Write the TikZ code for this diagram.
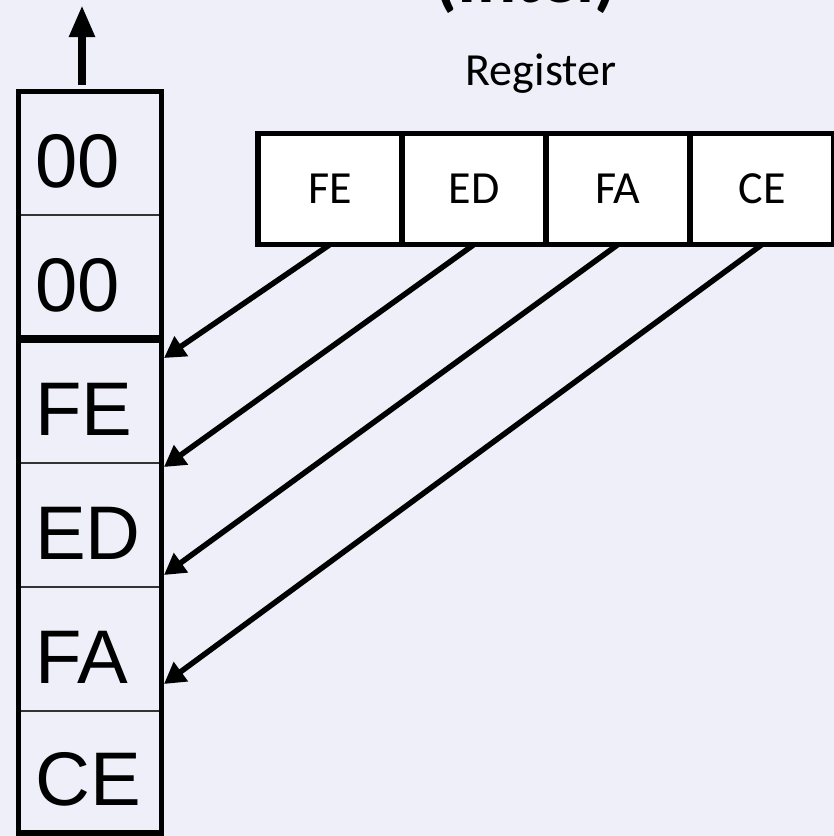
\documentclass[tikz,border=0pt]{standalone}
\usepackage{fontspec}
\setmainfont{Liberation Sans}
\newfontfamily\calibri{Carlito}
\usetikzlibrary{arrows.meta}

\definecolor{slidebg}{RGB}{239,239,250}

\tikzset{
	regcell/.style={draw, rectangle, line width=5.5pt, fill=white, outer sep=0pt,
		minimum width=144pt, minimum height=111pt, font=\calibri\fontsize{46}{50}\selectfont},
	memtext/.style={anchor=base west, inner sep=0pt, font=\fontsize{76}{80}\selectfont},
	copyarrow/.style={-{Triangle[length=21pt,width=23pt]}, line width=5.5pt},
}

\begin{document}
\begin{tikzpicture}[x=1pt, y=-1pt]
				\useasboundingbox (0,0) rectangle (834,836);
				\fill[slidebg] (0,0) rectangle (834,836);
				% heading and register
				\node[anchor=base, inner sep=0pt, font=\calibri\bfseries\fontsize{73}{80}\selectfont] (title) at (526, 2) {(Intel)};
				\node[anchor=base, inner sep=0pt, font=\calibri\fontsize{46}{50}\selectfont] (reglabel) at (541, 85) {Register};
				\node[regcell] (rFE) at (330, 189) {FE};
				\node[regcell] (rED) at (474, 189) {ED};
				\node[regcell] (rFA) at (618, 189) {FA};
				\node[regcell] (rCE) at (762, 189) {CE};
				% memory column, lowest address on top
				\draw[black!80, line width=1.5pt] (18.5, 215) -- (161.5, 215);
				\draw[line width=8pt] (18.5, 339) -- (161.5, 339);
				\draw[black!80, line width=1.5pt] (18.5, 463) -- (161.5, 463);
				\draw[black!80, line width=1.5pt] (18.5, 587) -- (161.5, 587);
				\draw[black!80, line width=1.5pt] (18.5, 711) -- (161.5, 711);
				\draw[line width=5.5pt] (18.5, 91.5) rectangle (161.5, 833);
				\node[memtext] (m1) at (35, 187) {00};
				\node[memtext] (m2) at (35, 311) {00};
				\node[memtext] (m3) at (35, 435) {FE};
				\node[memtext] (m4) at (35, 559) {ED};
				\node[memtext] (m5) at (35, 683) {FA};
				\node[memtext] (m6) at (35, 805) {CE};
				\coordinate (memtop) at (82, 85);
				\coordinate (memout) at (82, 5);
				\coordinate (inFE) at (164, 358);
				\coordinate (inED) at (164, 467);
				\coordinate (inFA) at (164, 575);
				\coordinate (inCE) at (164, 684);
				\draw[line width=8pt, -{Triangle[length=32pt,width=24pt]}] (memtop) -- (memout);
				\draw[copyarrow] (rFE.south) -- (inFE);
				\draw[copyarrow] (rED.south) -- (inED);
				\draw[copyarrow] (rFA.south) -- (inFA);
				\draw[copyarrow] (rCE.south) -- (inCE);
			\end{tikzpicture}
\end{document}
